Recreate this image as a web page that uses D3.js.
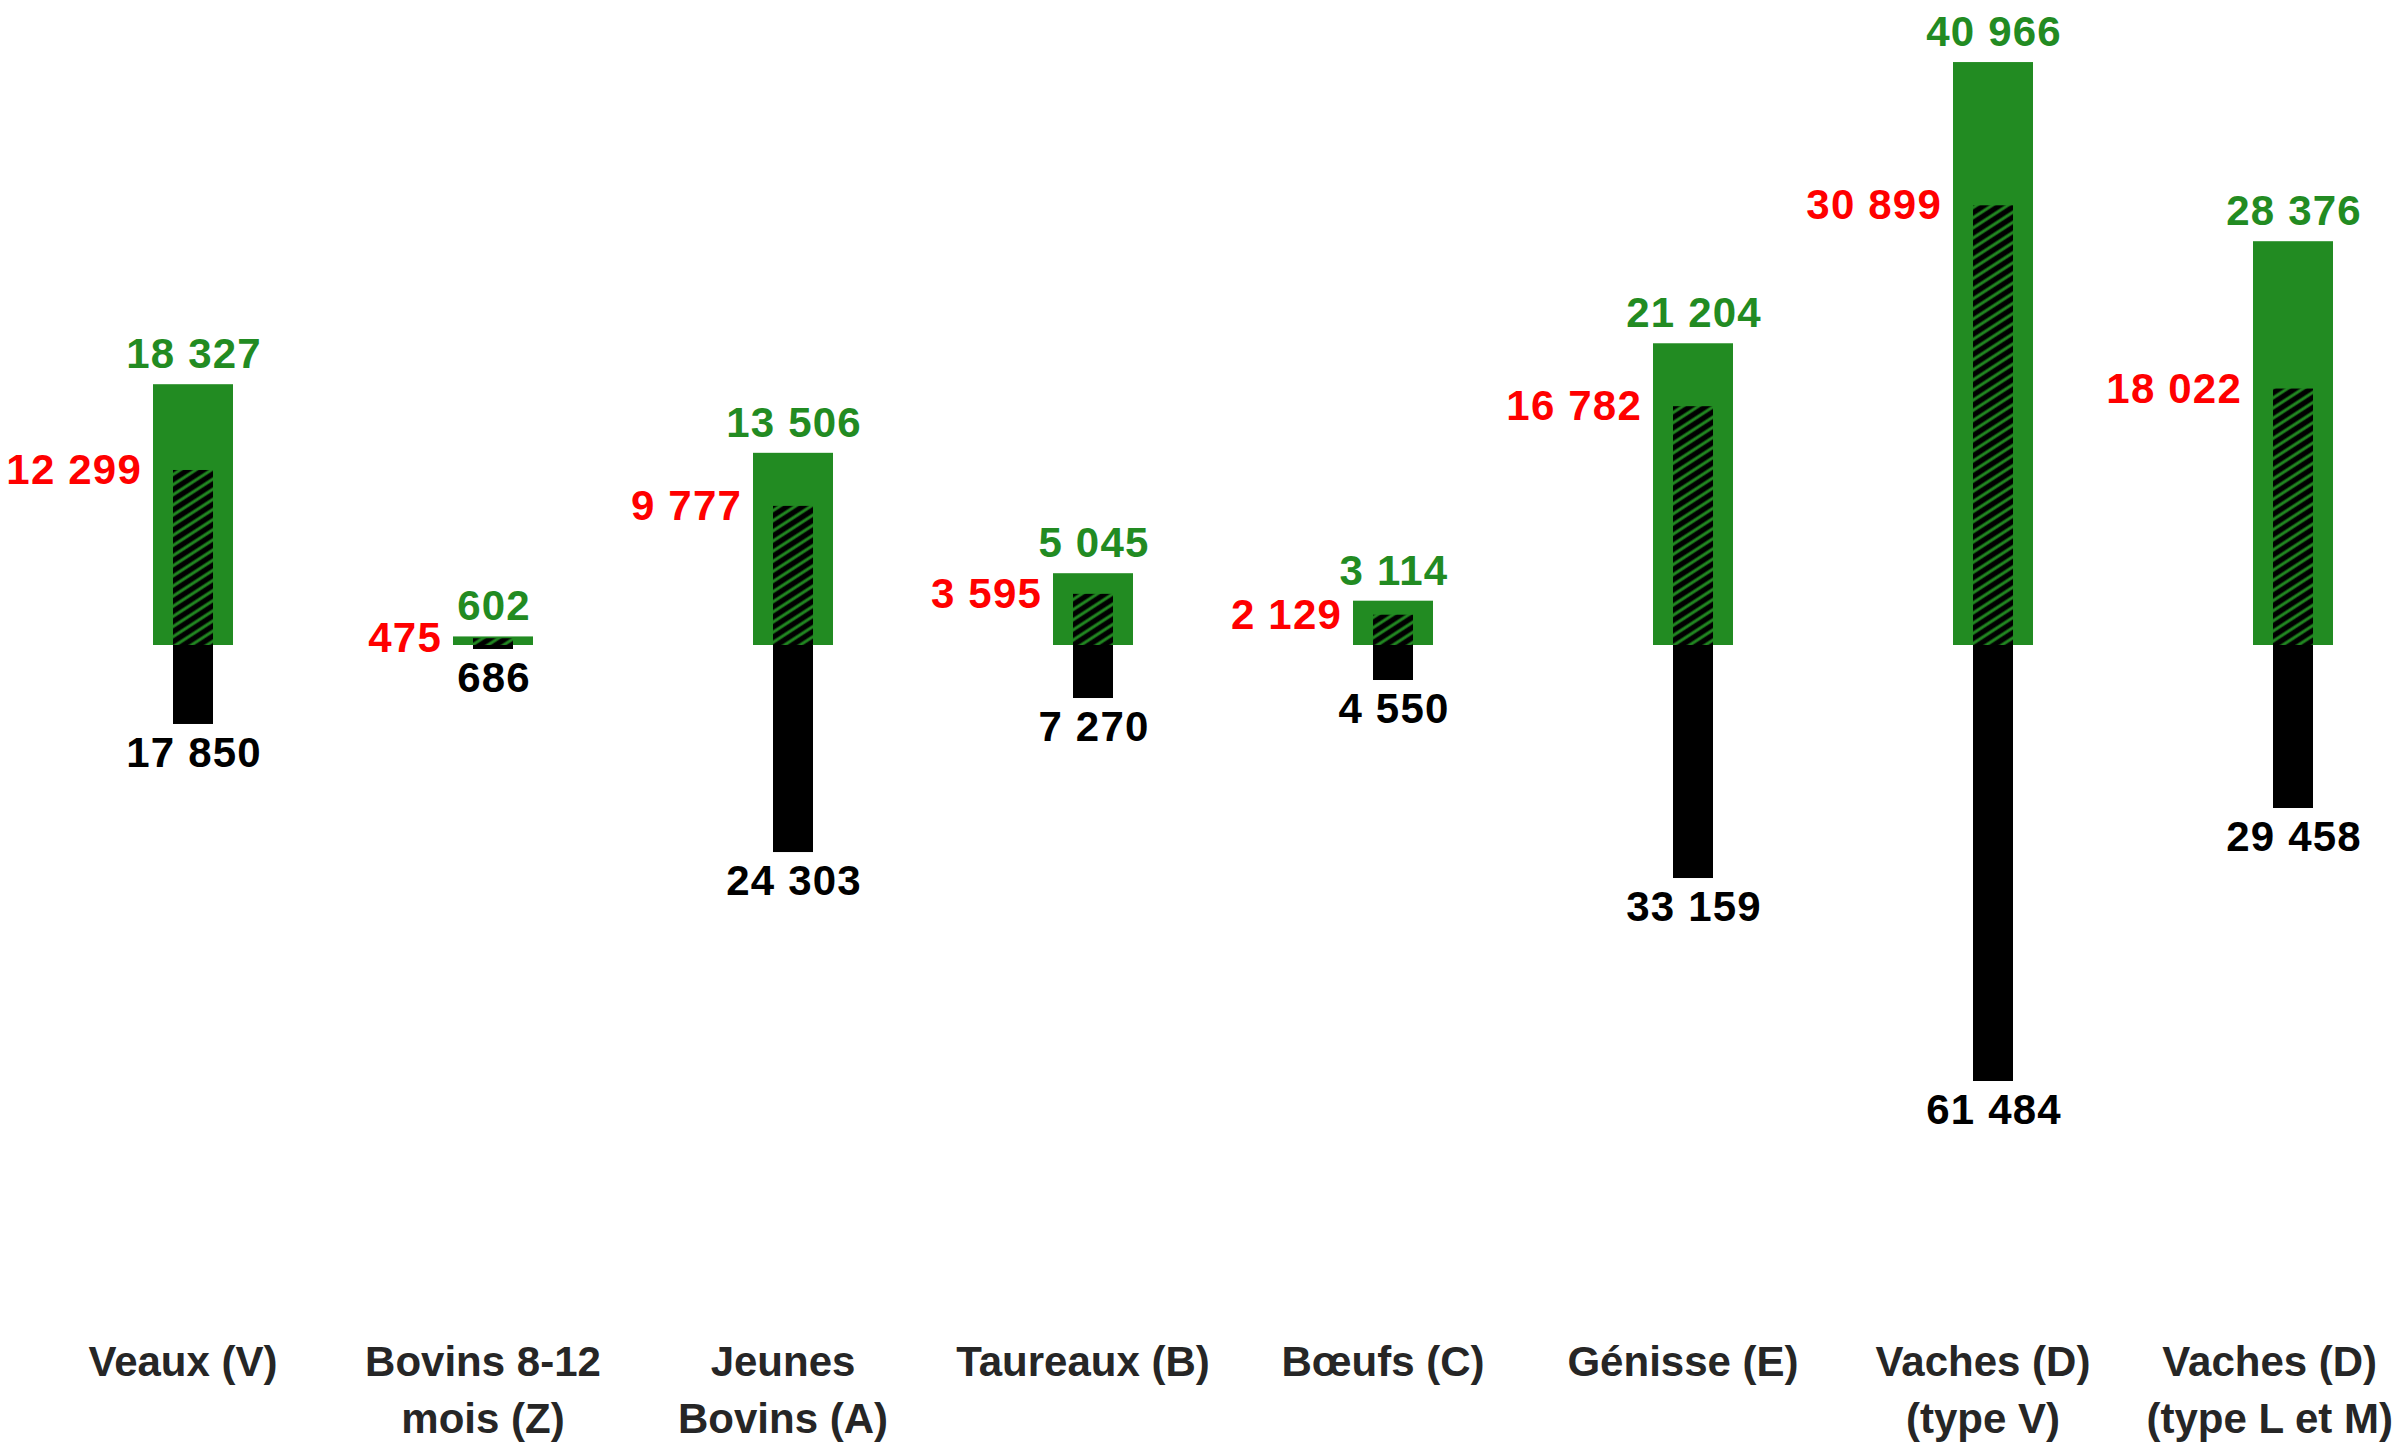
<!DOCTYPE html>
<html>
<head>
<meta charset="utf-8">
<script src="https://cdn.jsdelivr.net/npm/d3@7"></script>
<style>
  body { margin: 0; background: #fff; }
  svg { display: block; }
</style>
</head>
<body>
<script>
const width = 2402, height = 1445;

// categories and values
const categories = ["Veaux (V)", "Bovins 8-12 mois (Z)", "Jeunes Bovins (A)", "Taureaux (B)",
  "Bœufs (C)", "Génisse (E)", "Vaches (D) (type V)", "Vaches (D) (type L et M)"];
const labelLines = [["Veaux (V)"], ["Bovins 8-12", "mois (Z)"], ["Jeunes", "Bovins (A)"], ["Taureaux (B)"],
  ["Bœufs (C)"], ["Génisse (E)"], ["Vaches (D)", "(type V)"], ["Vaches (D)", "(type L et M)"]];
const greenValues = [18327, 602, 13506, 5045, 3114, 21204, 40966, 28376];
const redValues = [12299, 475, 9777, 3595, 2129, 16782, 30899, 18022];
const blackLabels = [17850, 686, 24303, 7270, 4550, 33159, 61484, 29458];
// black bars are not drawn to the same scale as their labels, lengths estimated in bar units
const blackBars = [5550, 280, 14550, 3725, 2460, 16375, 30640, 11455];

const GREEN = "#228B22", RED = "#FF0000";

const fr = d3.formatLocale({decimal: ",", thousands: " ", grouping: [3], currency: ["", " €"]});
const fmt = fr.format(",d");

const x = d3.scaleBand().domain(categories).range([43, 2443]).padding(0);
const y = d3.scaleLinear().domain([0, 45327]).range([645, 0]);
const cx = d => x(d) + x.bandwidth() / 2;

const svg = d3.select("body").append("svg").attr("width", width).attr("height", height);

// hatch pattern for the red series
const defs = svg.append("defs");
const grad = defs.append("linearGradient").attr("id", "stripe").attr("x1", 0).attr("y1", 0).attr("x2", 0).attr("y2", 1);
[[0, GREEN], [0.18, "#000"], [0.62, "#000"], [0.85, GREEN]].forEach(s => {
  grad.append("stop").attr("offset", s[0]).attr("stop-color", s[1]);
});
const pat = defs.append("pattern").attr("id", "hatch")
  .attr("patternUnits", "userSpaceOnUse").attr("width", 20).attr("height", 8.5)
  .attr("patternTransform", "rotate(-33)");
pat.append("rect").attr("width", 20).attr("height", 8.5).attr("fill", "url(#stripe)");

const rows = categories.map((c, i) => ({
  c: c, green: greenValues[i], red: redValues[i], black: blackBars[i], blabel: blackLabels[i], lines: labelLines[i]
}));

// green bars
svg.append("g").selectAll("rect").data(rows).join("rect")
  .attr("x", d => cx(d.c) - 40).attr("width", 80)
  .attr("y", d => y(d.green)).attr("height", d => y(0) - y(d.green))
  .attr("fill", GREEN);

// hatched bars
svg.append("g").selectAll("rect").data(rows).join("rect")
  .attr("x", d => cx(d.c) - 20).attr("width", 40)
  .attr("y", d => y(d.red)).attr("height", d => y(0) - y(d.red))
  .attr("fill", "url(#hatch)");

// black bars going down
svg.append("g").selectAll("rect").data(rows).join("rect")
  .attr("x", d => cx(d.c) - 20).attr("width", 40)
  .attr("y", y(0)).attr("height", d => y(-d.black) - y(0))
  .attr("fill", "#000");

const vfont = "'Liberation Sans', Arial, sans-serif";

function valueText(g) {
  g.attr("font-family", vfont).attr("font-weight", "bold").attr("font-size", 42)
    .attr("letter-spacing", 1.2);
}

svg.append("g").call(valueText).selectAll("text").data(rows).join("text")
  .attr("x", d => cx(d.c) + 1).attr("y", d => y(d.green) - 16)
  .attr("text-anchor", "middle")
  .attr("fill", GREEN)
  .text(d => fmt(d.green));

svg.append("g").call(valueText).selectAll("text").data(rows).join("text")
  .attr("x", d => cx(d.c) - 51).attr("y", d => y(d.red) + 14)
  .attr("text-anchor", "end")
  .attr("fill", RED)
  .text(d => fmt(d.red));

svg.append("g").call(valueText).selectAll("text").data(rows).join("text")
  .attr("x", d => cx(d.c) + 1).attr("y", d => y(-d.black) + 43)
  .attr("text-anchor", "middle")
  .attr("fill", "#000")
  .text(d => fmt(d.blabel));

// category labels
const cat = svg.append("g").selectAll("text").data(rows).join("text")
  .attr("text-anchor", "middle")
  .attr("font-family", "'Liberation Sans', Arial, sans-serif")
  .attr("font-weight", "bold").attr("font-size", 42)
  .attr("fill", "#262626");

cat.each(function(d) {
  const t = d3.select(this);
  d.lines.forEach((l, k) => {
    t.append("tspan").attr("x", cx(d.c) - 10).attr("y", 1376 + k * 57).text(l);
  });
  // keep the last label inside the picture, shifting the whole block
  let maxW = 0;
  t.selectAll("tspan").each(function() { maxW = Math.max(maxW, this.getComputedTextLength()); });
  const over = cx(d.c) - 10 + maxW / 2 - 2393;
  if (over > 0) t.selectAll("tspan").attr("x", cx(d.c) - 10 - over);
});
</script>
</body>
</html>
